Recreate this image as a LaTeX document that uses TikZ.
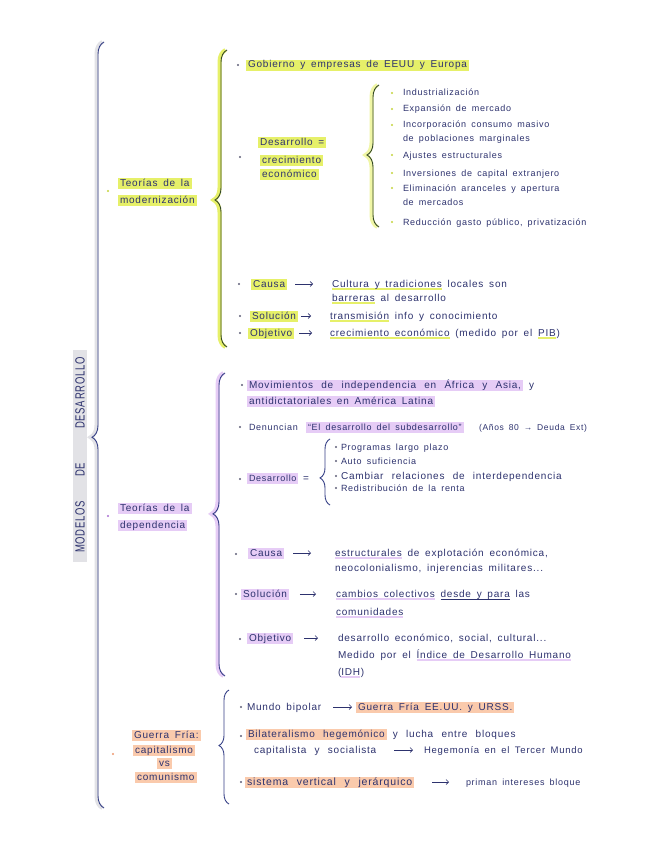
\documentclass[tikz,border=0pt]{standalone}
\usepackage{fontspec}
\setmainfont{Liberation Sans}[LetterSpace=8, WordSpace=1.6]
\newfontfamily\widefont{Liberation Sans}[LetterSpace=8, WordSpace=2.3]
\usetikzlibrary{decorations.pathreplacing,arrows.meta}
\definecolor{ink}{RGB}{45,50,110}
\definecolor{hlY}{RGB}{230,240,105}
\definecolor{hlP}{RGB}{230,204,246}
\definecolor{hlO}{RGB}{250,202,172}
\definecolor{hlG}{RGB}{226,226,230}
\definecolor{brG}{RGB}{52,72,40}
\definecolor{brN}{RGB}{55,65,135}
\definecolor{bY}{RGB}{195,212,60}
\definecolor{bP}{RGB}{170,110,210}
\definecolor{bO}{RGB}{238,150,110}
\definecolor{bK}{RGB}{95,95,120}
\newlength\hlw
\newcommand\hiL[2]{\settowidth{\hlw}{#2}\addtolength{\hlw}{4pt}\leavevmode\rlap{\hspace{-2pt}\textcolor{#1}{\rule[-3pt]{\hlw}{11pt}}}#2}
\newcommand\unL[2]{\settowidth{\hlw}{#2}\leavevmode\rlap{\textcolor{#1}{\rule[-3.4pt]{\hlw}{2.4pt}}}#2}
\newcommand\unK[1]{\settowidth{\hlw}{#1}\leavevmode\rlap{\rule[-2.2pt]{\hlw}{0.5pt}}#1}
\newcommand\hbrace[7]{%
  \draw[#7, line width=4pt, decorate, decoration={brace, amplitude=#4pt, aspect=#5}] (#1-1.5,#3) -- (#1-1.5,#2);
  \draw[#6, line width=0.9pt, decorate, decoration={brace, amplitude=#4pt, aspect=#5}] (#1,#3) -- (#1,#2);}
\newcommand\bul[3]{\fill[#1] (#2,#3) circle (1.2pt);}
\tikzset{
  tx/.style={anchor=base west, inner sep=0pt, outer sep=0pt, text=ink,
    font=\fontsize{10}{12}\selectfont},
  txs/.style={tx, font=\fontsize{9}{11}\selectfont},
  txw/.style={tx, font=\fontsize{10}{12}\widefont},
  arr/.style={draw=ink, line width=0.6pt, -{Straight Barb[length=2.5pt,width=5pt]}},
}
\begin{document}
\begin{tikzpicture}[x=1pt,y=-1pt]
\useasboundingbox (0,0) rectangle (655,848);
\fill[white] (0,0) rectangle (655,848);
% ---------- main brace and title
\fill[hlG] (73,350) rectangle (87,562);
\hbrace{104}{42}{808}{12}{0.484}{brN}{hlG}
\node[text=ink, rotate=90, inner sep=0pt, font=\fontsize{9.5}{11}\selectfont] (title) at (80,455)
  {\scalebox{1}[1.4]{MODELOS\hspace{24pt}DE\hspace{34pt}DESARROLLO}};
% ---------- section 1: modernizacion
\bul{bY}{108}{191}
\node[tx] (mod1) at (120,186) {\hiL{hlY}{Teorías de la}};
\node[tx] (mod2) at (120,203) {\hiL{hlY}{modernización}};
\hbrace{227}{50}{347}{12}{0.495}{brG}{hlY}
\bul{bK}{238}{65}
\node[tx] (gob) at (248,68) {\hiL{hlY}{Gobierno y empresas de EEUU y Europa}};
\bul{bK}{240}{157}
\node[tx] (des1) at (260,145) {\hiL{hlY}{Desarrollo =}};
\node[tx] (des2) at (262,163) {\hiL{hlY}{crecimiento}};
\node[tx] (des3) at (262,177) {\hiL{hlY}{económico}};
\hbrace{379}{85}{227}{12}{0.507}{brG}{hlY!60}
\bul{bY}{392}{93}\bul{bY}{392}{109}\bul{bY}{392}{125}\bul{bY}{392}{155}
\bul{bY}{392}{173}\bul{bY}{392}{188}\bul{bY}{392}{222}
\node[txs] (i1) at (403,96) {Industrialización};
\node[txs] (i2) at (403,112) {Expansión de mercado};
\node[txs] (i3) at (403,128) {Incorporación consumo masivo};
\node[txs] (i3b) at (403,141) {de poblaciones marginales};
\node[txs] (i4) at (403,158) {Ajustes estructurales};
\node[txs] (i5) at (403,176) {Inversiones de capital extranjero};
\node[txs] (i6) at (403,191) {Eliminación aranceles y apertura};
\node[txs] (i6b) at (403,205) {de mercados};
\node[txs] (i7) at (403,225) {Reducción gasto público, privatización};
\bul{bK}{239}{284}\bul{bK}{240}{316}\bul{bK}{240}{333}
\node[tx] (cau1) at (253,287) {\hiL{hlY}{Causa}};
\node[tx] (cau1t) at (332,287) {\unL{hlY}{Cultura y tradiciones} locales son};
\node[tx] (cau1u) at (332,301) {\unL{hlY}{barreras} al desarrollo};
\node[tx] (sol1) at (252,319) {\hiL{hlY}{Solución}};
\node[tx] (sol1t) at (330,319) {\unL{hlY}{transmisión} info y conocimiento};
\node[tx] (obj1) at (250,336) {\hiL{hlY}{Objetivo}};
\node[tx] (obj1t) at (330,336) {\unL{hlY}{crecimiento económico} (medido por el \unL{hlY}{PIB})};
\draw[arr, shorten <=10pt, shorten >=19pt] ([yshift=3pt]cau1.base east) -- ([yshift=3pt]cau1t.base west);
\draw[arr, shorten <=5pt, shorten >=19pt] ([yshift=3pt]sol1.base east) -- ([yshift=3pt]sol1t.base west);
\draw[arr, shorten <=7pt, shorten >=18pt] ([yshift=3pt]obj1.base east) -- ([yshift=3pt]obj1t.base west);
% ---------- section 2: dependencia
\bul{bP}{108}{516}
\node[tx] (dep1) at (120,511) {\hiL{hlP}{Teorías de la}};
\node[tx] (dep2) at (120,528) {\hiL{hlP}{dependencia}};
\hbrace{225}{373}{676}{12}{0.535}{brN}{hlP}
\bul{bK}{242}{385}\bul{bK}{240}{427}\bul{bK}{240}{479}
\node[txw] (mov1) at (249,388) {\hiL{hlP}{Movimientos de independencia en África y Asia,} y};
\node[tx] (mov2) at (249,404) {\hiL{hlP}{antidictatoriales en América Latina}};
\node[txs] (den) at (249,430) {Denuncian};
\node[txs] (denq) at (308,430) {\hiL{hlP}{“El desarrollo del subdesarrollo”}};
\node[txs, font=\fontsize{8.5}{10}\selectfont] (denp) at (479,430) {(Años 80 → Deuda Ext)};
\node[txs] (desd) at (249,481) {\hiL{hlP}{Desarrollo}};
\node[tx] (deseq) at (303,481) {=};
\hbrace{330}{439}{505}{10}{0.41}{brN}{white}
\bul{bK}{336}{447}\bul{bK}{336}{461}\bul{bK}{336}{476}\bul{bK}{336}{488}
\node[txs] (p1) at (341,450) {Programas largo plazo};
\node[txs] (p2) at (341,464) {Auto suficiencia};
\node[txw] (p3) at (341,479) {Cambiar relaciones de interdependencia};
\node[txs] (p4) at (341,491) {Redistribución de la renta};
\bul{bK}{236}{554}\bul{bK}{236}{594}\bul{bK}{240}{639}
\node[tx] (cau2) at (250,556) {\hiL{hlP}{Causa}};
\node[tx] (cau2t) at (335,556) {\unL{hlP}{estructurales} de explotación económica,};
\node[tx] (cau2u) at (335,571) {neocolonialismo, injerencias militares...};
\node[tx] (sol2) at (243,597) {\hiL{hlP}{Solución}};
\node[tx] (sol2t) at (336,597) {\unL{hlP}{cambios colectivos} \unK{desde y para} las};
\node[tx] (sol2u) at (336,615) {\unL{hlP}{comunidades}};
\node[tx] (obj2) at (249,641) {\hiL{hlP}{Objetivo}};
\node[tx] (obj2t) at (338,641) {desarrollo económico, social, cultural...};
\node[tx] (obj2u) at (338,658) {Medido por el \unL{hlP}{Índice de Desarrollo Humano}};
\node[tx] (obj2v) at (338,675) {(\unL{hlP}{IDH})};
\draw[arr, shorten <=11pt, shorten >=24pt] ([yshift=3pt]cau2.base east) -- ([yshift=3pt]cau2t.base west);
\draw[arr, shorten <=13pt, shorten >=20pt] ([yshift=3pt]sol2.base east) -- ([yshift=3pt]sol2t.base west);
\draw[arr, shorten <=13pt, shorten >=20pt] ([yshift=3pt]obj2.base east) -- ([yshift=3pt]obj2t.base west);
% ---------- section 3: guerra fria
\bul{bO}{113}{754}
\node[tx] (gf1) at (134,738) {\hiL{hlO}{Guerra Fría:}};
\node[tx] (gf2) at (135,753) {\hiL{hlO}{capitalismo}};
\node[tx] (gf3) at (159,766) {\hiL{hlO}{vs}};
\node[tx] (gf4) at (137,780) {\hiL{hlO}{comunismo}};
\hbrace{229}{690}{804}{10}{0.513}{brN}{white}
\bul{bK}{241}{707}\bul{bK}{241}{736}\bul{bK}{241}{782}
\node[tx] (mb) at (247,710) {Mundo bipolar};
\node[tx] (mbt) at (358,710) {\hiL{hlO}{Guerra Fría EE.UU. y URSS.}};
\node[txw] (bil) at (248,737) {\hiL{hlO}{Bilateralismo hegemónico} y lucha entre bloques};
\node[txw] (cap) at (254,753) {capitalista y socialista};
\node[tx, font=\fontsize{9.5}{11}\selectfont] (heg) at (424,753) {Hegemonía en el Tercer Mundo};
\node[txw, font=\fontsize{10.5}{12}\widefont] (sis) at (247,785) {\hiL{hlO}{sistema vertical y jerárquico}};
\node[txs] (pri) at (466,785) {priman intereses bloque};
\draw[arr, shorten <=12pt, shorten >=6pt] ([yshift=3pt]mb.base east) -- ([yshift=3pt]mbt.base west);
\draw[arr, shorten <=18pt, shorten >=11pt] ([yshift=3pt]cap.base east) -- ([yshift=3pt]heg.base west);
\draw[arr, shorten <=20pt, shorten >=17pt] ([yshift=3pt]sis.base east) -- ([yshift=3pt]pri.base west);
\end{tikzpicture}
\end{document}
